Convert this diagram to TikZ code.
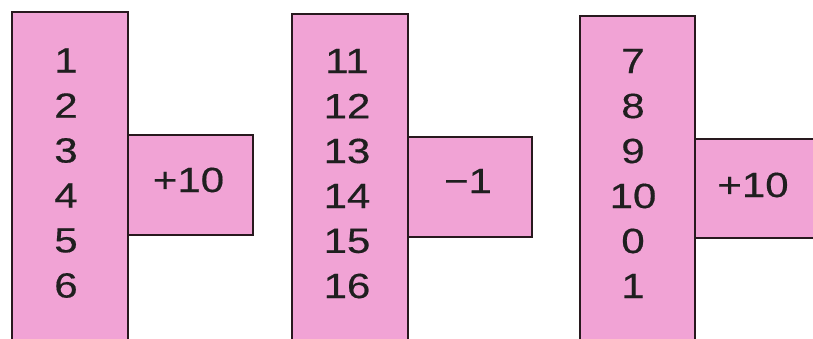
\documentclass[tikz,border=0pt]{standalone}
\usepackage{fontspec}
\setmainfont{Liberation Sans}
\newfontfamily\numfont{Liberation Sans}[FakeBold=0.4]
\definecolor{pinkfill}{RGB}{241,163,213}
\definecolor{edge}{RGB}{40,25,30}
\newcommand{\widetxt}[1]{\scalebox{1.2}[1]{#1}}
\begin{document}
\begin{tikzpicture}[x=1pt,y=1pt,
  box/.style={draw=edge,fill=pinkfill,line width=1.8pt},
  num/.style={font=\numfont\fontsize{35}{42}\selectfont,text=black!88,inner sep=0pt,anchor=center}]
\useasboundingbox (0,0) rectangle (813,338);
\clip (0,0) rectangle (813,338);
% group 1
\draw[box] (128,203) rectangle (253,103) coordinate (s1);
\draw[box] (12,326) rectangle (128,-10) coordinate (t1);
\node[num] (a1) at (66,277.5) {\widetxt{1}};
\node[num] (a2) at (66,232.5) {\widetxt{2}};
\node[num] (a3) at (66,187.5) {\widetxt{3}};
\node[num] (a4) at (66,142.5) {\widetxt{4}};
\node[num] (a5) at (66,97.5) {\widetxt{5}};
\node[num] (a6) at (66,52.5) {\widetxt{6}};
\node[num] (op1) at (188.5,158) {\widetxt{+10}};
% group 2
\draw[box] (408,201) rectangle (532,101) coordinate (s2);
\draw[box] (292,324) rectangle (408,-10) coordinate (t2);
\node[num] (b1) at (347,277) {\widetxt{11}};
\node[num] (b2) at (347,232) {\widetxt{12}};
\node[num] (b3) at (347,187) {\widetxt{13}};
\node[num] (b4) at (347,142) {\widetxt{14}};
\node[num] (b5) at (347,97) {\widetxt{15}};
\node[num] (b6) at (347,52) {\widetxt{16}};
\node[num] (op2) at (468,157) {\widetxt{−1}};
% group 3
\draw[box] (695,199) rectangle (840,100) coordinate (s3);
\draw[box] (580,322) rectangle (695,-10) coordinate (t3);
\node[num] (c1) at (633,277) {\widetxt{7}};
\node[num] (c2) at (633,232) {\widetxt{8}};
\node[num] (c3) at (633,187) {\widetxt{9}};
\node[num] (c4) at (633,142) {\widetxt{10}};
\node[num] (c5) at (633,97) {\widetxt{0}};
\node[num] (c6) at (633,52) {\widetxt{1}};
\node[num] (op3) at (753,153) {\widetxt{+10}};
\end{tikzpicture}
\end{document}
